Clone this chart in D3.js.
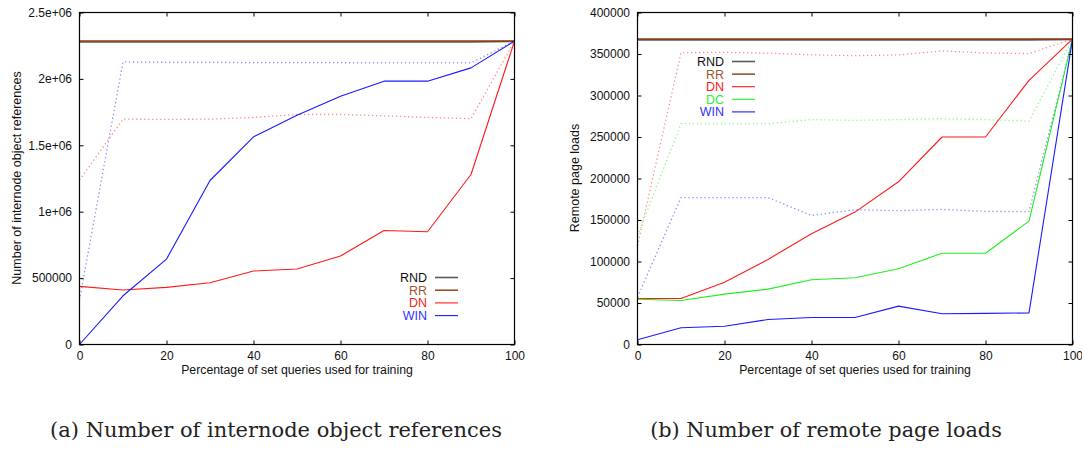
<!DOCTYPE html>
<html>
<head>
<meta charset="utf-8">
<script src="https://cdn.jsdelivr.net/npm/d3@7"></script>
<style>
  body { margin: 0; background: #fff; }
  svg { display: block; }
</style>
</head>
<body>
<svg id="fig" width="1082" height="449"></svg>
<script>
// Share of set queries used for training (%)
const trainingPct = [0, 10, 20, 30, 40, 50, 60, 70, 80, 90, 100];
const xTickValues = [0, 20, 40, 60, 80, 100];

// (a) internode object references
const refRnd       = [2278000, 2278000, 2278000, 2278000, 2278000, 2278000, 2278000, 2278000, 2278000, 2278000, 2282000];
const refRr        = [2285000, 2285000, 2285000, 2285000, 2285000, 2285000, 2285000, 2285000, 2285000, 2285000, 2285000];
const refDn        = [438000, 410000, 430000, 465000, 553000, 568000, 666000, 859000, 849000, 1280000, 2285000];
const refWin       = [0, 367000, 643000, 1235000, 1564000, 1727000, 1870000, 1983000, 1983000, 2083000, 2285000];
const refDnDotted  = [1238000, 1697000, 1695000, 1697000, 1710000, 1732000, 1732000, 1722000, 1710000, 1700000, 2285000];
const refWinDotted = [335000, 2128000, 2125000, 2125000, 2122000, 2122000, 2122000, 2120000, 2120000, 2120000, 2285000];
const refYTicks      = [0, 500000, 1000000, 1500000, 2000000, 2500000];
const refYTickLabels = ["0", "500000", "1e+06", "1.5e+06", "2e+06", "2.5e+06"];

// (b) remote page loads
const loadRnd       = [367000, 367000, 367000, 367000, 367000, 367000, 367000, 367000, 367000, 367000, 367500];
const loadRr        = [368000, 368000, 368000, 368000, 368000, 368000, 368000, 368000, 368000, 368000, 368000];
const loadDn        = [55500, 55500, 75100, 102500, 133500, 159500, 196000, 250000, 250000, 318300, 368000];
const loadDc        = [54600, 53000, 60700, 66700, 78000, 80400, 91300, 110000, 110000, 148700, 368000];
const loadWin       = [5700, 20100, 22000, 30100, 32600, 32600, 46200, 37000, 37500, 38000, 368000];
const loadDnDotted  = [119000, 351700, 352000, 351000, 349000, 348000, 348900, 353700, 351300, 350500, 368000];
const loadDcDotted  = [131000, 266000, 266000, 266000, 271000, 270000, 271000, 272000, 271000, 269000, 368000];
const loadWinDotted = [57000, 177000, 177000, 177000, 155500, 162400, 161200, 162800, 160400, 160000, 368000];
const loadYTicks      = [0, 50000, 100000, 150000, 200000, 250000, 300000, 350000, 400000];
const loadYTickLabels = ["0", "50000", "100000", "150000", "200000", "250000", "300000", "350000", "400000"];

const xTitle = "Percentage of set queries used for training";

// Series styling
const STYLE = {
  RND: { line: "#5a5a5a", text: "#111111", width: 1.6 },
  RR:  { line: "#8b3a0f", text: "#9c5a2e", width: 1.4 },
  DN:  { line: "#ff1a1a", text: "#ff2020", width: 1.1 },
  DC:  { line: "#22ee22", text: "#33ee33", width: 1.1 },
  WIN: { line: "#1a1aff", text: "#3333ff", width: 1.1 }
};

const svg = d3.select("#fig");
const FONT = "'Liberation Sans', Arial, Helvetica, sans-serif";

function drawPanel(box, cfg) {
  const x = d3.scaleLinear().domain([0, 100]).range([box.left, box.right]);
  const y = d3.scaleLinear().domain([0, cfg.yMax]).range([box.bottom, box.top]);
  const g = svg.append("g");

  const line = d3.line()
    .x((d, i) => x(trainingPct[i]))
    .y(d => y(d));

  // dotted companions drawn underneath
  cfg.dotted.forEach(s => {
    g.append("path")
      .attr("d", line(s.values))
      .attr("fill", "none")
      .attr("stroke", STYLE[s.key].line)
      .attr("stroke-opacity", 0.5)
      .attr("stroke-width", 1.3)
      .attr("stroke-dasharray", "1.3,2.7");
  });

  cfg.solid.forEach(s => {
    g.append("path")
      .attr("d", line(s.values))
      .attr("fill", "none")
      .attr("stroke", STYLE[s.key].line)
      .attr("stroke-width", STYLE[s.key].width)
      .attr("stroke-linejoin", "round");
  });

  // axes: ticks point inward and are mirrored on top/right
  const styleAxis = sel => {
    sel.select(".domain").remove();
    sel.selectAll(".tick line").attr("stroke", "#000").attr("stroke-width", 1);
    sel.selectAll("text").attr("font-family", FONT).attr("font-size", 12).attr("fill", "#111");
  };

  g.append("g").attr("transform", `translate(0,${box.bottom})`)
    .call(d3.axisBottom(x).tickValues(xTickValues).tickFormat(d3.format("d"))
      .tickSizeInner(-4).tickSizeOuter(0).tickPadding(7))
    .call(styleAxis);
  g.append("g").attr("transform", `translate(0,${box.top})`)
    .call(d3.axisTop(x).tickValues(xTickValues).tickFormat("")
      .tickSizeInner(-4).tickSizeOuter(0))
    .call(styleAxis);
  g.append("g").attr("transform", `translate(${box.left},0)`)
    .call(d3.axisLeft(y).tickValues(cfg.yTicks).tickFormat((d, i) => cfg.yLabels[i])
      .tickSizeInner(-4).tickSizeOuter(0).tickPadding(7.5))
    .call(styleAxis);
  g.append("g").attr("transform", `translate(${box.right},0)`)
    .call(d3.axisRight(y).tickValues(cfg.yTicks).tickFormat("")
      .tickSizeInner(-4).tickSizeOuter(0))
    .call(styleAxis);

  g.append("rect")
    .attr("x", box.left).attr("y", box.top)
    .attr("width", box.right - box.left).attr("height", box.bottom - box.top)
    .attr("fill", "none").attr("stroke", "#000").attr("stroke-width", 1.2);

  // axis titles
  g.append("text")
    .attr("x", (box.left + box.right) / 2).attr("y", 374)
    .attr("text-anchor", "middle")
    .attr("font-family", FONT).attr("font-size", 12.3).attr("fill", "#111")
    .text(xTitle);
  g.append("text")
    .attr("transform", `translate(${cfg.yTitleX},178) rotate(-90)`)
    .attr("text-anchor", "middle")
    .attr("font-family", FONT).attr("font-size", 12.5).attr("fill", "#111")
    .text(cfg.yTitle);

  // legend
  cfg.legend.keys.forEach((k, i) => {
    const ly = cfg.legend.y + i * cfg.legend.step;
    g.append("text")
      .attr("x", cfg.legend.x).attr("y", ly).attr("dy", "0.36em")
      .attr("text-anchor", "end")
      .attr("font-family", FONT).attr("font-size", 12.5)
      .attr("fill", STYLE[k].text)
      .text(k);
    g.append("line")
      .attr("x1", cfg.legend.x + 8).attr("x2", cfg.legend.x + 31)
      .attr("y1", ly).attr("y2", ly)
      .attr("stroke", STYLE[k].line).attr("stroke-width", STYLE[k].width);
  });

  // sub-figure caption
  const cap = svg.append("text")
    .attr("x", cfg.caption.cx).attr("y", 436.5)
    .attr("text-anchor", "middle")
    .attr("font-family", "'DejaVu Serif', 'Liberation Serif', serif")
    .attr("font-size", 18).attr("fill", "#222")
    .text(cfg.caption.text);
  const w = cap.node().getComputedTextLength();
  if (w > 0) cap.attr("font-size", 18 * cfg.caption.width / w);
}

drawPanel(
  { left: 79.5, right: 514.5, top: 12.5, bottom: 344.5 },
  {
    yMax: 2500000,
    yTicks: refYTicks,
    yLabels: refYTickLabels,
    yTitle: "Number of internode object references",
    yTitleX: 20.5,
    solid: [
      { key: "RND", values: refRnd },
      { key: "RR", values: refRr },
      { key: "DN", values: refDn },
      { key: "WIN", values: refWin }
    ],
    dotted: [
      { key: "DN", values: refDnDotted },
      { key: "WIN", values: refWinDotted }
    ],
    legend: { x: 427, y: 277.5, step: 12.7, keys: ["RND", "RR", "DN", "WIN"] },
    caption: { cx: 276, width: 452, text: "(a) Number of internode object references" }
  }
);

drawPanel(
  { left: 637.5, right: 1072.5, top: 12.5, bottom: 344.5 },
  {
    yMax: 400000,
    yTicks: loadYTicks,
    yLabels: loadYTickLabels,
    yTitle: "Remote page loads",
    yTitleX: 579,
    solid: [
      { key: "RND", values: loadRnd },
      { key: "RR", values: loadRr },
      { key: "DN", values: loadDn },
      { key: "DC", values: loadDc },
      { key: "WIN", values: loadWin }
    ],
    dotted: [
      { key: "DN", values: loadDnDotted },
      { key: "DC", values: loadDcDotted },
      { key: "WIN", values: loadWinDotted }
    ],
    legend: { x: 724, y: 61.5, step: 12.6, keys: ["RND", "RR", "DN", "DC", "WIN"] },
    caption: { cx: 826, width: 352, text: "(b) Number of remote page loads" }
  }
);
</script>
</body>
</html>
